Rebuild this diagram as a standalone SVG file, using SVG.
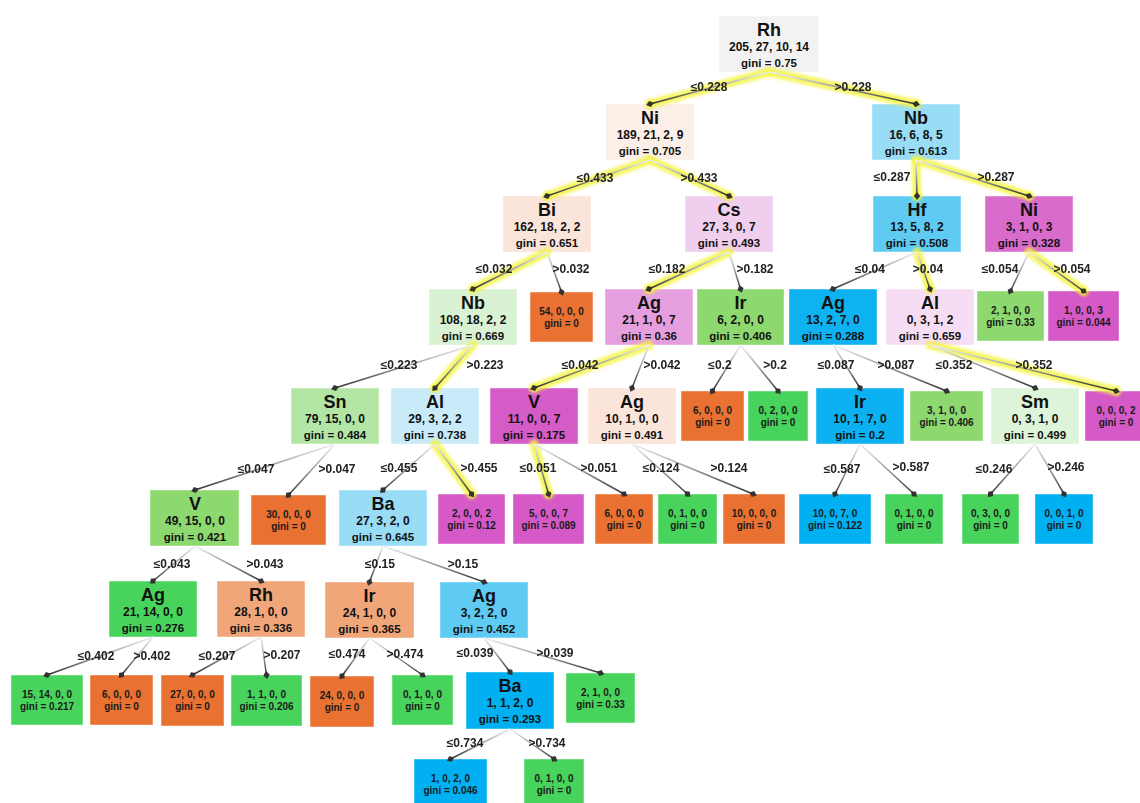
<svg xmlns="http://www.w3.org/2000/svg" width="1140" height="803" viewBox="0 0 1140 803">
<style>
text{font-family:"Liberation Sans",Arial,sans-serif;font-weight:bold;text-anchor:middle;fill:#111}
.nm{font-size:18px}
.ct{font-size:12px}
.gi{font-size:11.5px}
.lf{font-size:10px;fill:#1a1a1a}
.lb{font-size:12px;fill:#222}
rect{stroke:#fff;stroke-opacity:.45;stroke-width:1}
.e{stroke:url(#eg);stroke-width:1.5;fill:none;marker-end:url(#dm)}
.hl line{stroke:#f4f43c;stroke-width:9;stroke-linecap:round;opacity:.8}
.hl circle{fill:#f4f43c;opacity:.85}
</style>
<defs>
<linearGradient id="eg" x1="0" y1="0" x2="0" y2="1">
<stop offset="0" stop-color="#edf1f5"/>
<stop offset="0.5" stop-color="#9a9a9a"/>
<stop offset="1" stop-color="#333"/>
</linearGradient>
<marker id="dm" viewBox="-5 -5 10 10" markerWidth="10" markerHeight="10" markerUnits="userSpaceOnUse" orient="auto" refX="0" refY="0">
<path d="M-4,0 L0,-3.2 L4,0 L0,3.2 Z" fill="#333"/>
</marker>
<filter id="gl" x="-20%" y="-20%" width="140%" height="140%"><feGaussianBlur stdDeviation="1.6"/></filter>
</defs>
<rect width="1140" height="803" fill="#fff" stroke="none"/>

<g id="n0"><rect x="719" y="16" width="100" height="56" fill="#f2f2f2"/><text class="nm" x="769" y="36">Rh</text><text class="ct" x="769" y="51">205, 27, 10, 14</text><text class="gi" x="769" y="67">gini = 0.75</text></g>
<g id="n1"><rect x="606" y="104" width="88" height="56" fill="#fcefe7"/><text class="nm" x="650" y="124">Ni</text><text class="ct" x="650" y="139">189, 21, 2, 9</text><text class="gi" x="650" y="155">gini = 0.705</text></g>
<g id="n2"><rect x="872" y="104" width="88" height="56" fill="#98dcf6"/><text class="nm" x="916" y="124">Nb</text><text class="ct" x="916" y="139">16, 6, 8, 5</text><text class="gi" x="916" y="155">gini = 0.613</text></g>
<g id="n3"><rect x="503" y="196" width="88" height="56" fill="#fbe4da"/><text class="nm" x="547" y="216">Bi</text><text class="ct" x="547" y="231">162, 18, 2, 2</text><text class="gi" x="547" y="247">gini = 0.651</text></g>
<g id="n4"><rect x="685" y="196" width="88" height="56" fill="#f0ceed"/><text class="nm" x="729" y="216">Cs</text><text class="ct" x="729" y="231">27, 3, 0, 7</text><text class="gi" x="729" y="247">gini = 0.493</text></g>
<g id="n5"><rect x="873" y="196" width="88" height="56" fill="#5fcbf2"/><text class="nm" x="917" y="216">Hf</text><text class="ct" x="917" y="231">13, 5, 8, 2</text><text class="gi" x="917" y="247">gini = 0.508</text></g>
<g id="n6"><rect x="985" y="196" width="88" height="56" fill="#d86bcb"/><text class="nm" x="1029" y="216">Ni</text><text class="ct" x="1029" y="231">3, 1, 0, 3</text><text class="gi" x="1029" y="247">gini = 0.328</text></g>
<g id="n7"><rect x="429" y="289" width="88" height="56" fill="#d9f2d3"/><text class="nm" x="473" y="309">Nb</text><text class="ct" x="473" y="324">108, 18, 2, 2</text><text class="gi" x="473" y="340">gini = 0.669</text></g>
<g id="n8"><rect x="530" y="292" width="63" height="50" fill="#e97132"/><text class="lf" x="561.5" y="315">54, 0, 0, 0</text><text class="lf" x="561.5" y="326.5">gini = 0</text></g>
<g id="n9"><rect x="605" y="289" width="88" height="56" fill="#e59fde"/><text class="nm" x="649" y="309">Ag</text><text class="ct" x="649" y="324">21, 1, 0, 7</text><text class="gi" x="649" y="340">gini = 0.36</text></g>
<g id="n10"><rect x="697" y="289" width="87" height="56" fill="#8dd86f"/><text class="nm" x="740.5" y="309">Ir</text><text class="ct" x="740.5" y="324">6, 2, 0, 0</text><text class="gi" x="740.5" y="340">gini = 0.406</text></g>
<g id="n11"><rect x="789" y="289" width="88" height="56" fill="#0fb2f0"/><text class="nm" x="833" y="309">Ag</text><text class="ct" x="833" y="324">13, 2, 7, 0</text><text class="gi" x="833" y="340">gini = 0.288</text></g>
<g id="n12"><rect x="886" y="289" width="88" height="56" fill="#f6ddf3"/><text class="nm" x="930" y="309">Al</text><text class="ct" x="930" y="324">0, 3, 1, 2</text><text class="gi" x="930" y="340">gini = 0.659</text></g>
<g id="n13"><rect x="977" y="291" width="67" height="50" fill="#8dd86f"/><text class="lf" x="1010.5" y="314">2, 1, 0, 0</text><text class="lf" x="1010.5" y="325.5">gini = 0.33</text></g>
<g id="n14"><rect x="1048" y="291" width="71" height="50" fill="#d55ac7"/><text class="lf" x="1083.5" y="314">1, 0, 0, 3</text><text class="lf" x="1083.5" y="325.5">gini = 0.044</text></g>
<g id="n15"><rect x="291" y="388" width="88" height="56" fill="#b3e6a5"/><text class="nm" x="335" y="408">Sn</text><text class="ct" x="335" y="423">79, 15, 0, 0</text><text class="gi" x="335" y="439">gini = 0.484</text></g>
<g id="n16"><rect x="391" y="388" width="88" height="56" fill="#c9ebf9"/><text class="nm" x="435" y="408">Al</text><text class="ct" x="435" y="423">29, 3, 2, 2</text><text class="gi" x="435" y="439">gini = 0.738</text></g>
<g id="n17"><rect x="490" y="388" width="88" height="56" fill="#d55bc7"/><text class="nm" x="534" y="408">V</text><text class="ct" x="534" y="423">11, 0, 0, 7</text><text class="gi" x="534" y="439">gini = 0.175</text></g>
<g id="n18"><rect x="588" y="388" width="88" height="56" fill="#fbe4da"/><text class="nm" x="632" y="408">Ag</text><text class="ct" x="632" y="423">10, 1, 0, 0</text><text class="gi" x="632" y="439">gini = 0.491</text></g>
<g id="n19"><rect x="681" y="391" width="63" height="50" fill="#e97132"/><text class="lf" x="712.5" y="414">6, 0, 0, 0</text><text class="lf" x="712.5" y="425.5">gini = 0</text></g>
<g id="n20"><rect x="748" y="391" width="60" height="50" fill="#48d45c"/><text class="lf" x="778" y="414">0, 2, 0, 0</text><text class="lf" x="778" y="425.5">gini = 0</text></g>
<g id="n21"><rect x="816" y="388" width="88" height="56" fill="#0bb1f0"/><text class="nm" x="860" y="408">Ir</text><text class="ct" x="860" y="423">10, 1, 7, 0</text><text class="gi" x="860" y="439">gini = 0.2</text></g>
<g id="n22"><rect x="910" y="391" width="73" height="50" fill="#8dd86f"/><text class="lf" x="946.5" y="414">3, 1, 0, 0</text><text class="lf" x="946.5" y="425.5">gini = 0.406</text></g>
<g id="n23"><rect x="991" y="388" width="88" height="56" fill="#ddf4d9"/><text class="nm" x="1035" y="408">Sm</text><text class="ct" x="1035" y="423">0, 3, 1, 0</text><text class="gi" x="1035" y="439">gini = 0.499</text></g>
<g id="n24"><rect x="1085" y="391" width="62" height="50" fill="#d55ac7"/><text class="lf" x="1116" y="414">0, 0, 0, 2</text><text class="lf" x="1116" y="425.5">gini = 0</text></g>
<g id="n25"><rect x="150" y="490" width="89" height="56" fill="#8dd86f"/><text class="nm" x="195" y="510">V</text><text class="ct" x="195" y="525">49, 15, 0, 0</text><text class="gi" x="195" y="541">gini = 0.421</text></g>
<g id="n26"><rect x="251" y="495" width="75" height="50" fill="#e97132"/><text class="lf" x="288.5" y="518">30, 0, 0, 0</text><text class="lf" x="288.5" y="529.5">gini = 0</text></g>
<g id="n27"><rect x="339" y="490" width="88" height="56" fill="#98dcf6"/><text class="nm" x="383" y="510">Ba</text><text class="ct" x="383" y="525">27, 3, 2, 0</text><text class="gi" x="383" y="541">gini = 0.645</text></g>
<g id="n28"><rect x="438" y="494" width="67" height="50" fill="#d55ac7"/><text class="lf" x="471.5" y="517">2, 0, 0, 2</text><text class="lf" x="471.5" y="528.5">gini = 0.12</text></g>
<g id="n29"><rect x="513" y="494" width="71" height="50" fill="#d55ac7"/><text class="lf" x="548.5" y="517">5, 0, 0, 7</text><text class="lf" x="548.5" y="528.5">gini = 0.089</text></g>
<g id="n30"><rect x="595" y="494" width="58" height="50" fill="#e97132"/><text class="lf" x="624" y="517">6, 0, 0, 0</text><text class="lf" x="624" y="528.5">gini = 0</text></g>
<g id="n31"><rect x="658" y="494" width="59" height="50" fill="#48d45c"/><text class="lf" x="687.5" y="517">0, 1, 0, 0</text><text class="lf" x="687.5" y="528.5">gini = 0</text></g>
<g id="n32"><rect x="723" y="494" width="62" height="50" fill="#e97132"/><text class="lf" x="754" y="517">10, 0, 0, 0</text><text class="lf" x="754" y="528.5">gini = 0</text></g>
<g id="n33"><rect x="799" y="494" width="72" height="50" fill="#00b0f0"/><text class="lf" x="835" y="517">10, 0, 7, 0</text><text class="lf" x="835" y="528.5">gini = 0.122</text></g>
<g id="n34"><rect x="885" y="494" width="58" height="50" fill="#48d45c"/><text class="lf" x="914" y="517">0, 1, 0, 0</text><text class="lf" x="914" y="528.5">gini = 0</text></g>
<g id="n35"><rect x="962" y="494" width="57" height="50" fill="#48d45c"/><text class="lf" x="990.5" y="517">0, 3, 0, 0</text><text class="lf" x="990.5" y="528.5">gini = 0</text></g>
<g id="n36"><rect x="1035" y="494" width="58" height="50" fill="#00b0f0"/><text class="lf" x="1064" y="517">0, 0, 1, 0</text><text class="lf" x="1064" y="528.5">gini = 0</text></g>
<g id="n37"><rect x="109" y="581" width="88" height="56" fill="#48d45c"/><text class="nm" x="153" y="601">Ag</text><text class="ct" x="153" y="616">21, 14, 0, 0</text><text class="gi" x="153" y="632">gini = 0.276</text></g>
<g id="n38"><rect x="217" y="581" width="88" height="56" fill="#f0a679"/><text class="nm" x="261" y="601">Rh</text><text class="ct" x="261" y="616">28, 1, 0, 0</text><text class="gi" x="261" y="632">gini = 0.336</text></g>
<g id="n39"><rect x="325" y="582" width="89" height="56" fill="#f0a679"/><text class="nm" x="369.5" y="602">Ir</text><text class="ct" x="369.5" y="617">24, 1, 0, 0</text><text class="gi" x="369.5" y="633">gini = 0.365</text></g>
<g id="n40"><rect x="440" y="582" width="88" height="56" fill="#5fcbf2"/><text class="nm" x="484" y="602">Ag</text><text class="ct" x="484" y="617">3, 2, 2, 0</text><text class="gi" x="484" y="633">gini = 0.452</text></g>
<g id="n41"><rect x="11" y="675" width="72" height="50" fill="#48d45c"/><text class="lf" x="47" y="698">15, 14, 0, 0</text><text class="lf" x="47" y="709.5">gini = 0.217</text></g>
<g id="n42"><rect x="90" y="675" width="63" height="50" fill="#e97132"/><text class="lf" x="121.5" y="698">6, 0, 0, 0</text><text class="lf" x="121.5" y="709.5">gini = 0</text></g>
<g id="n43"><rect x="161" y="675" width="63" height="51" fill="#e97132"/><text class="lf" x="192.5" y="698">27, 0, 0, 0</text><text class="lf" x="192.5" y="709.5">gini = 0</text></g>
<g id="n44"><rect x="231" y="675" width="71" height="51" fill="#48d45c"/><text class="lf" x="266.5" y="698">1, 1, 0, 0</text><text class="lf" x="266.5" y="709.5">gini = 0.206</text></g>
<g id="n45"><rect x="310" y="676" width="64" height="51" fill="#e97132"/><text class="lf" x="342" y="699">24, 0, 0, 0</text><text class="lf" x="342" y="710.5">gini = 0</text></g>
<g id="n46"><rect x="392" y="675" width="61" height="50" fill="#48d45c"/><text class="lf" x="422.5" y="698">0, 1, 0, 0</text><text class="lf" x="422.5" y="709.5">gini = 0</text></g>
<g id="n47"><rect x="466" y="672" width="88" height="57" fill="#00b0f0"/><text class="nm" x="510" y="692">Ba</text><text class="ct" x="510" y="707">1, 1, 2, 0</text><text class="gi" x="510" y="723">gini = 0.293</text></g>
<g id="n48"><rect x="566" y="673" width="69" height="50" fill="#48d45c"/><text class="lf" x="600.5" y="696">2, 1, 0, 0</text><text class="lf" x="600.5" y="707.5">gini = 0.33</text></g>
<g id="n49"><rect x="414" y="759" width="73" height="50" fill="#00b0f0"/><text class="lf" x="450.5" y="782">1, 0, 2, 0</text><text class="lf" x="450.5" y="793.5">gini = 0.046</text></g>
<g id="n50"><rect x="524" y="759" width="60" height="50" fill="#48d45c"/><text class="lf" x="554" y="782">0, 1, 0, 0</text><text class="lf" x="554" y="793.5">gini = 0</text></g>

<g id="connectors">
<g class="hl" filter="url(#gl)">
<line x1="769" y1="72" x2="650" y2="104"/><circle cx="650" cy="104" r="5"/>
<line x1="769" y1="72" x2="916" y2="104"/><circle cx="916" cy="104" r="5"/>
<line x1="650" y1="160" x2="547" y2="196"/><circle cx="547" cy="196" r="5"/>
<line x1="650" y1="160" x2="729" y2="196"/><circle cx="729" cy="196" r="5"/>
<line x1="916" y1="160" x2="917" y2="196"/><circle cx="917" cy="196" r="5"/>
<line x1="916" y1="160" x2="1029" y2="196"/><circle cx="1029" cy="196" r="5"/>
<line x1="547" y1="252" x2="473" y2="289"/><circle cx="473" cy="289" r="5"/>
<line x1="729" y1="252" x2="649" y2="289"/><circle cx="649" cy="289" r="5"/>
<line x1="917" y1="252" x2="930" y2="289"/><circle cx="930" cy="289" r="5"/>
<line x1="1029" y1="252" x2="1083.5" y2="291"/><circle cx="1083.5" cy="291" r="5"/>
<line x1="473" y1="345" x2="435" y2="388"/><circle cx="435" cy="388" r="5"/>
<line x1="649" y1="345" x2="534" y2="388"/><circle cx="534" cy="388" r="5"/>
<line x1="930" y1="345" x2="1116" y2="391"/><circle cx="1116" cy="391" r="5"/>
<line x1="435" y1="444" x2="471.5" y2="494"/><circle cx="471.5" cy="494" r="5"/>
<line x1="534" y1="444" x2="548.5" y2="494"/><circle cx="548.5" cy="494" r="5"/>
</g>
<line class="e" x1="769" y1="72" x2="650" y2="104"/>
<line class="e" x1="769" y1="72" x2="916" y2="104"/>
<line class="e" x1="650" y1="160" x2="547" y2="196"/>
<line class="e" x1="650" y1="160" x2="729" y2="196"/>
<line class="e" x1="916" y1="160" x2="917" y2="196"/>
<line class="e" x1="916" y1="160" x2="1029" y2="196"/>
<line class="e" x1="547" y1="252" x2="473" y2="289"/>
<line class="e" x1="547" y1="252" x2="561.5" y2="292"/>
<line class="e" x1="729" y1="252" x2="649" y2="289"/>
<line class="e" x1="729" y1="252" x2="740.5" y2="289"/>
<line class="e" x1="917" y1="252" x2="833" y2="289"/>
<line class="e" x1="917" y1="252" x2="930" y2="289"/>
<line class="e" x1="1029" y1="252" x2="1010.5" y2="291"/>
<line class="e" x1="1029" y1="252" x2="1083.5" y2="291"/>
<line class="e" x1="473" y1="345" x2="335" y2="388"/>
<line class="e" x1="473" y1="345" x2="435" y2="388"/>
<line class="e" x1="649" y1="345" x2="534" y2="388"/>
<line class="e" x1="649" y1="345" x2="632" y2="388"/>
<line class="e" x1="740.5" y1="345" x2="712.5" y2="391"/>
<line class="e" x1="740.5" y1="345" x2="778" y2="391"/>
<line class="e" x1="833" y1="345" x2="860" y2="388"/>
<line class="e" x1="833" y1="345" x2="946.5" y2="391"/>
<line class="e" x1="930" y1="345" x2="1035" y2="388"/>
<line class="e" x1="930" y1="345" x2="1116" y2="391"/>
<line class="e" x1="335" y1="444" x2="195" y2="490"/>
<line class="e" x1="335" y1="444" x2="288.5" y2="495"/>
<line class="e" x1="435" y1="444" x2="383" y2="490"/>
<line class="e" x1="435" y1="444" x2="471.5" y2="494"/>
<line class="e" x1="534" y1="444" x2="548.5" y2="494"/>
<line class="e" x1="534" y1="444" x2="624" y2="494"/>
<line class="e" x1="632" y1="444" x2="687.5" y2="494"/>
<line class="e" x1="632" y1="444" x2="753" y2="494"/>
<line class="e" x1="860" y1="444" x2="835" y2="494"/>
<line class="e" x1="860" y1="444" x2="914" y2="494"/>
<line class="e" x1="1035" y1="444" x2="990.5" y2="494"/>
<line class="e" x1="1035" y1="444" x2="1064" y2="494"/>
<line class="e" x1="195" y1="546" x2="153" y2="581"/>
<line class="e" x1="195" y1="546" x2="261" y2="581"/>
<line class="e" x1="383" y1="546" x2="369.5" y2="582"/>
<line class="e" x1="383" y1="546" x2="484" y2="582"/>
<line class="e" x1="153" y1="637" x2="47" y2="675"/>
<line class="e" x1="153" y1="637" x2="121.5" y2="675"/>
<line class="e" x1="261" y1="637" x2="192.5" y2="675"/>
<line class="e" x1="261" y1="637" x2="266.5" y2="675"/>
<line class="e" x1="369.5" y1="638" x2="342" y2="676"/>
<line class="e" x1="369.5" y1="638" x2="422.5" y2="675"/>
<line class="e" x1="484" y1="638" x2="510" y2="672"/>
<line class="e" x1="484" y1="638" x2="600.5" y2="673"/>
<line class="e" x1="510" y1="729" x2="450.5" y2="759"/>
<line class="e" x1="510" y1="729" x2="554" y2="759"/>
<g id="labels">
<text class="lb" x="709" y="91">≤0.228</text><text class="lb" x="853" y="91">&gt;0.228</text>
<text class="lb" x="595" y="182">≤0.433</text><text class="lb" x="699" y="182">&gt;0.433</text>
<text class="lb" x="892" y="181">≤0.287</text><text class="lb" x="996" y="181">&gt;0.287</text>
<text class="lb" x="494" y="273">≤0.032</text><text class="lb" x="571" y="273">&gt;0.032</text>
<text class="lb" x="667" y="273">≤0.182</text><text class="lb" x="755" y="273">&gt;0.182</text>
<text class="lb" x="870" y="273">≤0.04</text><text class="lb" x="928" y="273">&gt;0.04</text>
<text class="lb" x="1000" y="273">≤0.054</text><text class="lb" x="1072" y="273">&gt;0.054</text>
<text class="lb" x="399" y="369">≤0.223</text><text class="lb" x="485" y="369">&gt;0.223</text>
<text class="lb" x="580" y="369">≤0.042</text><text class="lb" x="662" y="369">&gt;0.042</text>
<text class="lb" x="720" y="369">≤0.2</text><text class="lb" x="775" y="369">&gt;0.2</text>
<text class="lb" x="836" y="369">≤0.087</text><text class="lb" x="896" y="369">&gt;0.087</text>
<text class="lb" x="954" y="369">≤0.352</text><text class="lb" x="1034" y="369">&gt;0.352</text>
<text class="lb" x="256" y="473">≤0.047</text><text class="lb" x="337" y="473">&gt;0.047</text>
<text class="lb" x="399" y="472">≤0.455</text><text class="lb" x="479" y="472">&gt;0.455</text>
<text class="lb" x="538" y="472">≤0.051</text><text class="lb" x="599" y="472">&gt;0.051</text>
<text class="lb" x="661" y="472">≤0.124</text><text class="lb" x="729" y="472">&gt;0.124</text>
<text class="lb" x="842" y="473">≤0.587</text><text class="lb" x="911" y="471">&gt;0.587</text>
<text class="lb" x="994" y="473">≤0.246</text><text class="lb" x="1066" y="471">&gt;0.246</text>
<text class="lb" x="172" y="568">≤0.043</text><text class="lb" x="265" y="568">&gt;0.043</text>
<text class="lb" x="380" y="568">≤0.15</text><text class="lb" x="463" y="568">&gt;0.15</text>
<text class="lb" x="96" y="660">≤0.402</text><text class="lb" x="152" y="660">&gt;0.402</text>
<text class="lb" x="217" y="660">≤0.207</text><text class="lb" x="282" y="659">&gt;0.207</text>
<text class="lb" x="347" y="658">≤0.474</text><text class="lb" x="405" y="658">&gt;0.474</text>
<text class="lb" x="475" y="657">≤0.039</text><text class="lb" x="555" y="657">&gt;0.039</text>
<text class="lb" x="465" y="747">≤0.734</text><text class="lb" x="547" y="747">&gt;0.734</text>
</g>
</g>
</svg>
